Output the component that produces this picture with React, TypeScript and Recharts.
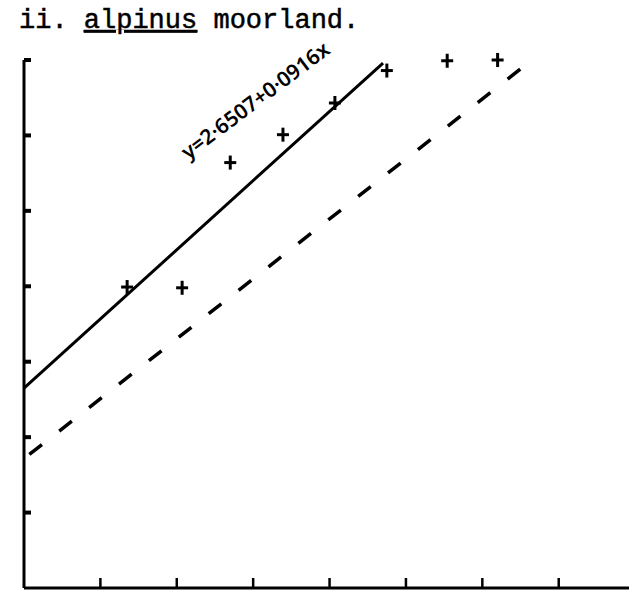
import { ComposedChart, XAxis, YAxis, Line, Scatter } from 'recharts';

// values
const xTicks = [10, 20, 30, 40, 50, 60, 70];
const yTicks = [1, 2, 3, 4, 5, 6, 7];

const observed = [
  { x: 13.5, y: 3.99 },
  { x: 20.7, y: 3.98 },
  { x: 27.0, y: 5.64 },
  { x: 33.9, y: 6.01 },
  { x: 40.7, y: 6.43 },
  { x: 47.5, y: 6.86 },
  { x: 55.4, y: 6.99 },
  { x: 62.0, y: 7.0 },
];

// fitted line y = 2.6507 + 0.0916x
const fittedLine = [
  { x: 0, y: 2.65 },
  { x: 47, y: 6.96 },
];

const dashedLine = [
  { x: 0.7, y: 1.77 },
  { x: 66, y: 6.96 },
];

const Plus = (props: any) => {
  const { cx, cy } = props;
  if (cx == null || cy == null) return null;
  return (
    <g stroke="#000" strokeWidth={3} strokeLinecap="butt">
      <line x1={cx - 6} y1={cy} x2={cx + 6} y2={cy} />
      <line x1={cx} y1={cy - 7} x2={cx} y2={cy + 7} />
    </g>
  );
};

// no tick labels, only the tick marks
const NoLabel = () => <g />;

const App = () => {
  return (
    <div style={{ position: 'absolute', left: 0, top: 0, width: 639, height: 592, background: '#fff' }}>
      <ComposedChart
        width={639}
        height={592}
        margin={{ top: 60, right: 10, bottom: 4, left: 24 }}
      >
        <XAxis
          type="number"
          dataKey="x"
          domain={[0, 79.2]}
          ticks={xTicks}
          height={12}
          mirror
          tick={NoLabel}
          tickSize={10}
          axisLine={{ stroke: '#000', strokeWidth: 3 }}
          tickLine={{ stroke: '#000', strokeWidth: 2.5 }}
        />
        <YAxis
          type="number"
          dataKey="y"
          domain={[0, 7]}
          ticks={yTicks}
          width={12}
          mirror
          tick={NoLabel}
          tickSize={7}
          axisLine={{ stroke: '#000', strokeWidth: 3 }}
          tickLine={{ stroke: '#000', strokeWidth: 4 }}
        />
        <Line
          data={fittedLine}
          dataKey="y"
          type="linear"
          stroke="#000"
          strokeWidth={3}
          dot={false}
          isAnimationActive={false}
        />
        <Line
          data={dashedLine}
          dataKey="y"
          type="linear"
          stroke="#000"
          strokeWidth={3.5}
          strokeDasharray="16 22"
          dot={false}
          isAnimationActive={false}
        />
        <Scatter data={observed} dataKey="y" shape={Plus} isAnimationActive={false} />
      </ComposedChart>
      <svg
        width={639}
        height={592}
        style={{ position: 'absolute', left: 0, top: 0, pointerEvents: 'none' }}
      >
        <text
          x={19}
          y={28}
          fontFamily="'Liberation Mono', monospace"
          fontSize={27}
          fill="#000"
          stroke="#000"
          strokeWidth={0.5}
        >
          ii. <tspan textDecoration="underline">alpinus</tspan> moorland.
        </text>
        <text
          x={255}
          y={100}
          transform="rotate(-37 255 100)"
          textAnchor="middle"
          dominantBaseline="central"
          fontFamily="'Noto Sans', sans-serif"
          fontSize={21}
          fontWeight={600}
          fill="#000"
        >
          y=2·6507+0·0916x
        </text>
      </svg>
    </div>
  );
};

export default App;
